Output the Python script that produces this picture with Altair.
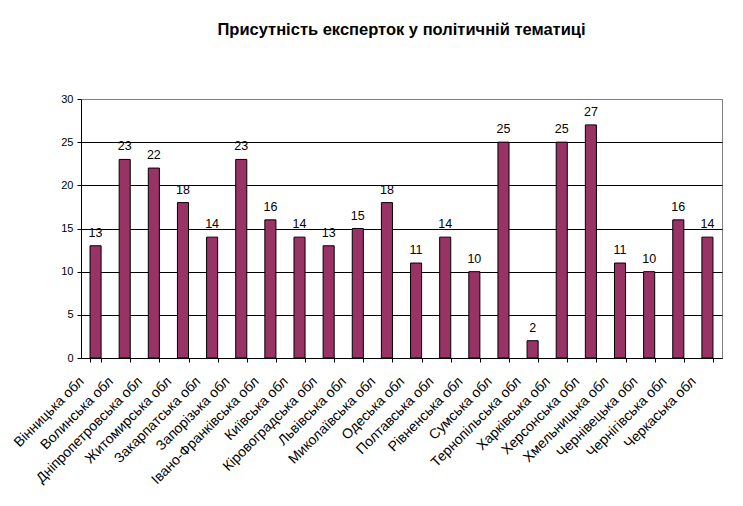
import altair as alt
import pandas as pd

regions = [
    "Вінницька обл", "Волинська обл", "Дніпропетровська обл", "Житомирська обл",
    "Закарпатська обл", "Запорізька обл", "Івано-Франківська обл", "Київська обл",
    "Кіровоградська обл", "Львівська обл", "Миколаївська обл", "Одеська обл",
    "Полтавська обл", "Рівненська обл", "Сумська обл", "Тернопільська обл",
    "Харківська обл", "Херсонська обл", "Хмельницька обл", "Чернівецька обл",
    "Чернігівська обл", "Черкаська обл",
]
values = [13, 23, 22, 18, 14, 23, 16, 14, 13, 15, 18, 11, 14, 10, 25, 2, 25, 27, 11, 10, 16, 14]
y_ticks = [0, 5, 10, 15, 20, 25, 30]
title_text = "Присутність експерток у політичній тематиці"

df = pd.DataFrame({"region": regions, "value": values})

FONT = "Liberation Sans"

x_enc = alt.X(
    "region:N",
    sort=regions,
    title=None,
    scale=alt.Scale(paddingInner=0.62, paddingOuter=0.31),
    axis=alt.Axis(
        labelAngle=-45,
        labelAlign="right",
        labelBaseline="top",
        labelFont=FONT,
        labelFontSize=14,
        labelColor="black",
        labelOffset=-19,
        labelPadding=12,
        tickBand="extent",
        tickColor="black",
        tickSize=4,
        domainColor="black",
        grid=False,
        labelOverlap=False,
    ),
)
y_enc = alt.Y(
    "value:Q",
    title=None,
    scale=alt.Scale(domain=[0, 30], nice=False),
    axis=alt.Axis(
        values=y_ticks,
        labelFont=FONT,
        labelFontSize=11,
        labelColor="black",
        labelPadding=4,
        tickColor="black",
        tickSize=4,
        domainColor="black",
        gridColor={"condition": {"test": "datum.value === 30", "value": "#808080"}, "value": "black"},
        gridOpacity=1,
    ),
)

bars = alt.Chart(df).mark_bar(color="#993366", stroke="black", strokeWidth=1).encode(x=x_enc, y=y_enc)
labels = alt.Chart(df).mark_text(
    baseline="alphabetic", dy=-9, font=FONT, fontSize=12.5, color="black"
).encode(x=alt.X("region:N", sort=regions), y="value:Q", text="value:Q")

chart = (
    alt.layer(bars, labels)
    .properties(
        width=641,
        height=259,
        autosize=alt.AutoSizeParams(type="none"),
        padding={"left": 73, "top": 91, "right": 13, "bottom": 130},
        title=alt.TitleParams(
            title_text,
            font=FONT,
            fontSize=16.5,
            fontWeight="bold",
            color="black",
            anchor="middle",
            frame="group",
            baseline="alphabetic",
            offset=42,
        ),
        background="white",
    )
    .configure_view(stroke="#808080", strokeWidth=1)
)

chart.save("out.html", embed_options={"renderer": "svg", "actions": False})
